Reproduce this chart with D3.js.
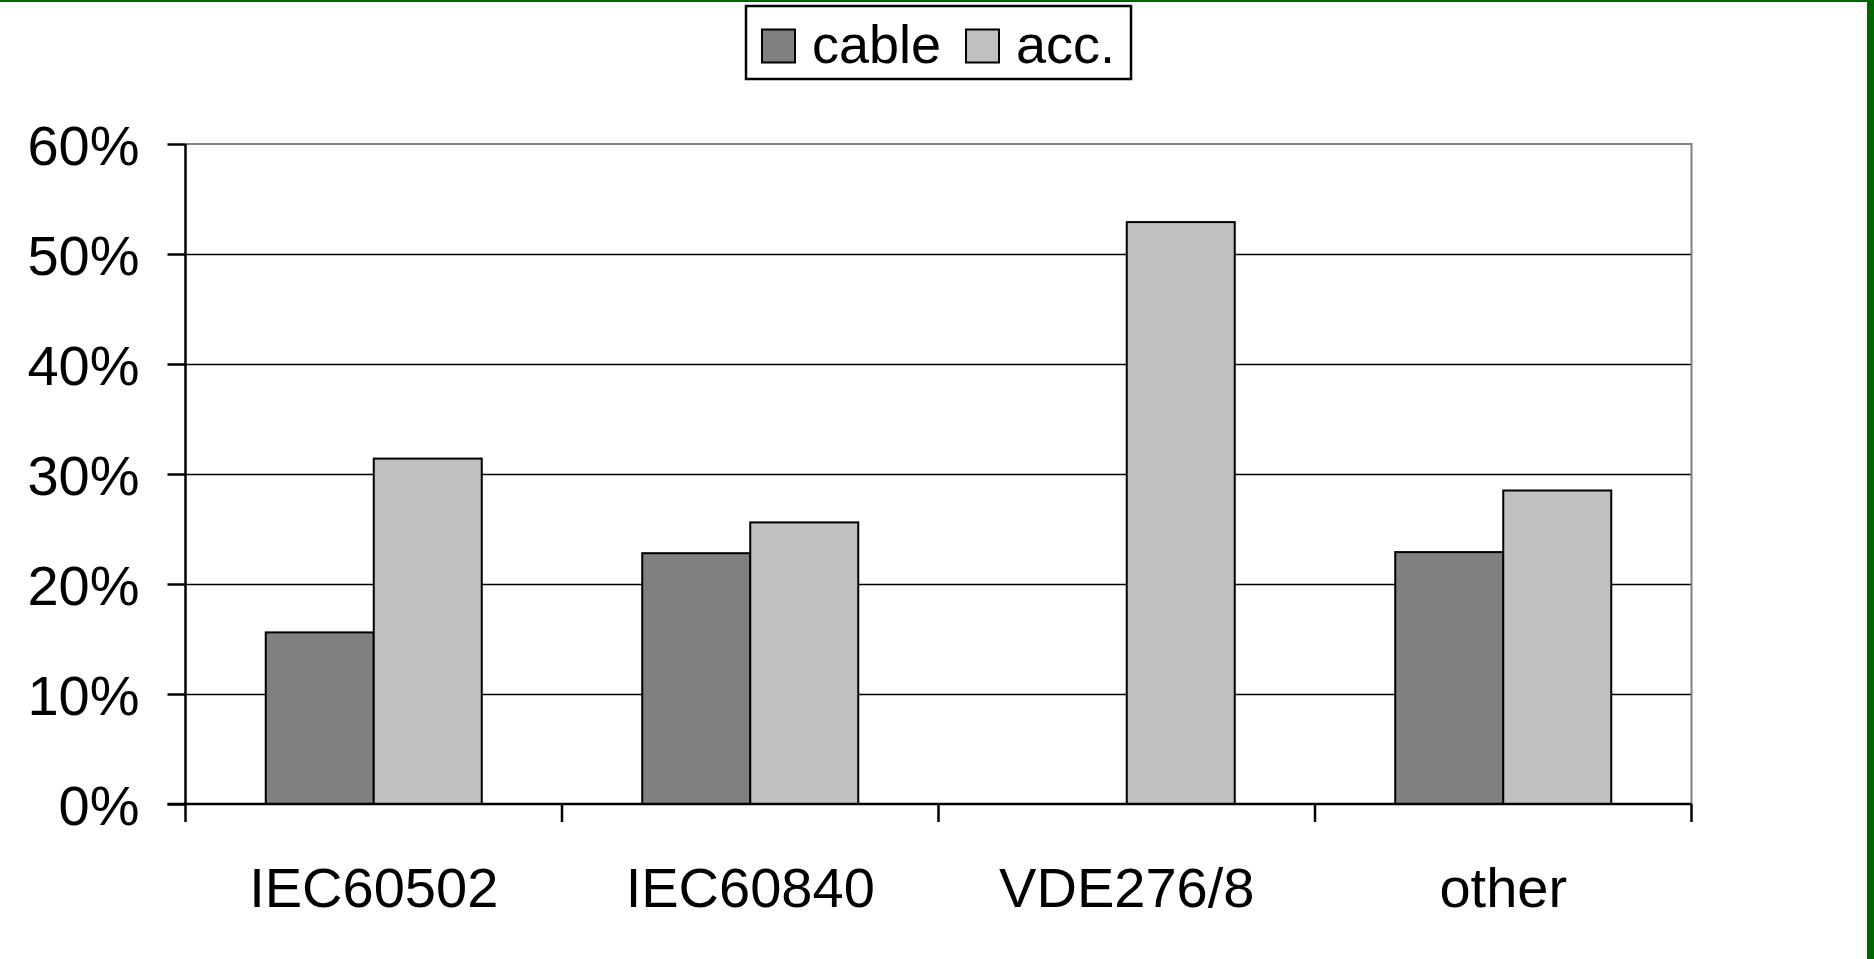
<!DOCTYPE html>
<html>
<head>
<meta charset="utf-8">
<script src="https://cdn.jsdelivr.net/npm/d3@7/dist/d3.min.js"></script>
<style>
  html, body { margin: 0; padding: 0; background: #fff; }
  svg { display: block; }
  text { font-family: "Liberation Sans", Arial, sans-serif; fill: #000; }
</style>
</head>
<body>
<svg id="chart" width="1874" height="959"></svg>
<script>
const categories = ["IEC60502", "IEC60840", "VDE276/8", "other"];
const seriesNames = ["cable", "acc."];
const cableValues = [0.156, 0.228, 0, 0.229];
const accValues = [0.314, 0.256, 0.529, 0.285];
const yTicks = [0, 0.1, 0.2, 0.3, 0.4, 0.5, 0.6];
const seriesColors = ["#808080", "#c0c0c0"];

(function () {
const svg = d3.select("#chart");
const W = 1874, H = 959;
svg.append("rect").attr("width", W).attr("height", H).attr("fill", "#fff");

// green frame (top and right)
svg.append("rect").attr("x", 0).attr("y", 0).attr("width", W).attr("height", 2).attr("fill", "#006600");
svg.append("rect").attr("x", 1867).attr("y", 0).attr("width", 7).attr("height", H).attr("fill", "#006600");

const pL = 185.5, pR = 1691.5, pT = 144, pB = 804;

const x0 = d3.scaleBand().domain(categories).range([pL, pR]).paddingInner(0).paddingOuter(0);
const x1 = d3.scaleBand().domain(seriesNames).range([0, x0.bandwidth()]).paddingInner(0).paddingOuter(0.743);
const y = d3.scaleLinear().domain([0, 0.6]).range([pB, pT]);

// gridlines
svg.append("g").selectAll("line").data(yTicks.filter(t => t > 0 && t < 0.6)).join("line")
  .attr("x1", pL).attr("x2", pR)
  .attr("y1", d => Math.round(y(d)) + 0.5).attr("y2", d => Math.round(y(d)) + 0.5)
  .attr("stroke", "#000").attr("stroke-width", 1.5);

// plot frame top/right (gray)
svg.append("path")
  .attr("d", `M${pL},${pT}H${pR}V${pB}`)
  .attr("fill", "none").attr("stroke", "#808080").attr("stroke-width", 2);

// bars
const rows = categories.map((c, i) => ({ cat: c, vals: [cableValues[i], accValues[i]] }));
const groups = svg.append("g").selectAll("g").data(rows).join("g")
  .attr("transform", d => `translate(${x0(d.cat)},0)`);
groups.selectAll("rect").data(d => d.vals.map((v, j) => ({ s: seriesNames[j], v, j })).filter(e => e.v > 0))
  .join("rect")
  .attr("x", d => x1(d.s))
  .attr("y", d => y(d.v))
  .attr("width", x1.bandwidth())
  .attr("height", d => y(0) - y(d.v))
  .attr("fill", d => seriesColors[d.j])
  .attr("stroke", "#000").attr("stroke-width", 2);

// y axis
const yAxis = d3.axisLeft(y).tickValues(yTicks).tickFormat(d3.format(".0%")).tickSize(18).tickPadding(28);
const gy = svg.append("g").attr("transform", `translate(${pL},0)`).call(yAxis);
gy.select(".domain").attr("stroke", "#000").attr("stroke-width", 2.5).attr("d", `M0,${pT}V${pB}`);
gy.selectAll(".tick line").attr("stroke", "#000").attr("stroke-width", 2.5);
gy.selectAll(".tick text").attr("font-size", 56).attr("font-family", "'Liberation Sans', Arial, sans-serif").attr("dy", "0.36em").attr("fill", "#000");

// x axis
const xb = d3.scaleLinear().domain([0, categories.length]).range([pL, pR]);
const gx = svg.append("g").attr("transform", `translate(0,${pB})`);
gx.append("line").attr("x1", pL - 18).attr("x2", pR).attr("y1", 0).attr("y2", 0).attr("stroke", "#000").attr("stroke-width", 2.5);
gx.selectAll("line.tk").data(d3.range(categories.length + 1)).join("line").attr("class", "tk")
  .attr("x1", d => xb(d)).attr("x2", d => xb(d)).attr("y1", 0).attr("y2", 18)
  .attr("stroke", "#000").attr("stroke-width", 2.5);
gx.selectAll("text").data(categories).join("text")
  .attr("x", d => x0(d) + x0.bandwidth() / 2).attr("y", 103)
  .attr("text-anchor", "middle").attr("font-size", 56)
  .text(d => d);

// legend
const lg = svg.append("g");
lg.append("rect").attr("x", 746).attr("y", 6).attr("width", 385).attr("height", 73)
  .attr("fill", "#fff").attr("stroke", "#000").attr("stroke-width", 2.5);
const legendX = [762, 966];
seriesNames.forEach((s, i) => {
  lg.append("rect").attr("x", legendX[i]).attr("y", 29.5).attr("width", 33).attr("height", 33)
    .attr("fill", seriesColors[i]).attr("stroke", "#000").attr("stroke-width", 2);
  lg.append("text").attr("x", legendX[i] + 50).attr("y", 63).attr("font-size", 54).text(s);
});
})();
</script>
</body>
</html>
